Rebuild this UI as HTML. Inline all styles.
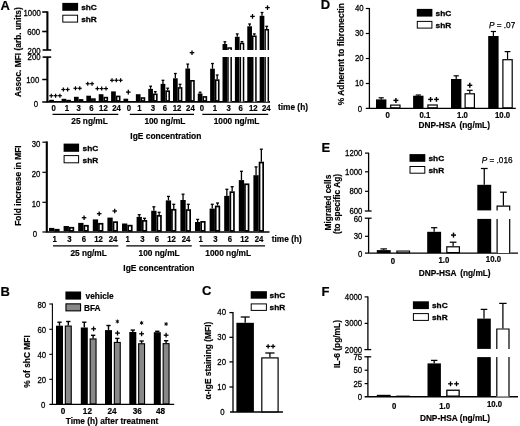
<!DOCTYPE html>
<html><head><meta charset="utf-8"><title>Figure</title>
<style>
html,body{margin:0;padding:0;background:#fff;}
body{width:520px;height:426px;overflow:hidden;}
svg{display:block;filter:blur(0.4px);font-family:"Liberation Sans", sans-serif;}
</style></head>
<body>
<svg width="520" height="426" viewBox="0 0 520 426">
<rect x="0" y="0" width="520" height="426" fill="#fff"/>
<g fill="#000" font-family="Liberation Sans, sans-serif">
<text x="0.6" y="10" font-size="13" font-weight="bold" text-anchor="start" stroke="#000" stroke-width="0.18">A</text>
<line x1="47.4" y1="11.4" x2="47.4" y2="50" stroke="#000" stroke-width="2.1"/>
<line x1="47.4" y1="56.9" x2="47.4" y2="102" stroke="#000" stroke-width="2.1"/>
<line x1="42.2" y1="12" x2="47.4" y2="12" stroke="#000" stroke-width="1.6"/>
<line x1="42.2" y1="31.5" x2="47.4" y2="31.5" stroke="#000" stroke-width="1.6"/>
<line x1="42.6" y1="50" x2="51.2" y2="50" stroke="#000" stroke-width="1.6"/>
<line x1="42.6" y1="57.1" x2="51.2" y2="57.1" stroke="#000" stroke-width="1.6"/>
<line x1="42.2" y1="79.5" x2="47.4" y2="79.5" stroke="#000" stroke-width="1.5"/>
<line x1="42.2" y1="102" x2="47.4" y2="102" stroke="#000" stroke-width="1.5"/>
<text transform="translate(40.8 15.95) scale(1 1.2)" font-size="7.8" font-weight="normal" text-anchor="end" stroke="#000" stroke-width="0.25">1000</text>
<text transform="translate(40.2 34.75) scale(1 1.2)" font-size="7.8" font-weight="normal" text-anchor="end" stroke="#000" stroke-width="0.25">600</text>
<text transform="translate(40.6 53.95) scale(1 1.2)" font-size="7.8" font-weight="normal" text-anchor="end" stroke="#000" stroke-width="0.25">200</text>
<text transform="translate(40.6 60.15) scale(1 1.2)" font-size="7.8" font-weight="normal" text-anchor="end" stroke="#000" stroke-width="0.25">200</text>
<text transform="translate(39.3 82.65) scale(1 1.2)" font-size="7.8" font-weight="normal" text-anchor="end" stroke="#000" stroke-width="0.25">100</text>
<text transform="translate(38 106.75) scale(1 1.2)" font-size="7.8" font-weight="normal" text-anchor="end" stroke="#000" stroke-width="0.25">0</text>
<line x1="46.6" y1="101.9" x2="270" y2="101.9" stroke="#000" stroke-width="1.6"/>
<text x="21.3" y="52.2" font-size="8.4" font-weight="bold" text-anchor="middle" stroke="#000" stroke-width="0.18" transform="rotate(-90 21.3 52.2)">Assoc. MFI (arb. units)</text>
<rect x="62.3" y="2.9" width="15.8" height="7.9" fill="#000"/>
<rect x="62.8" y="15.2" width="14.8" height="6.9" fill="#fff" stroke="#000" stroke-width="1"/>
<text transform="translate(81.2 10.4) scale(1 0.97)" font-size="8.3" font-weight="bold" text-anchor="start" stroke="#000" stroke-width="0.3">shC</text>
<text transform="translate(81.2 22) scale(1 0.97)" font-size="8.3" font-weight="bold" text-anchor="start" stroke="#000" stroke-width="0.3">shR</text>
<rect x="49.2" y="99.8" width="4.7" height="1.4" fill="#000"/>
<rect x="54.7" y="101.4" width="3.1" height="-0.5" fill="#fff" stroke="#000" stroke-width="1.6"/>
<text transform="translate(53.7 110.51) scale(1 1.15)" font-size="7.8" font-weight="bold" text-anchor="middle" stroke="#000" stroke-width="0.18">0</text>
<rect x="61.58" y="98.8" width="4.7" height="2.4" fill="#000"/>
<rect x="67.08" y="100.6" width="3.1" height="0.3" fill="#fff" stroke="#000" stroke-width="1.6"/>
<text transform="translate(66.8 110.51) scale(1 1.15)" font-size="7.8" font-weight="bold" text-anchor="middle" stroke="#000" stroke-width="0.18">1</text>
<rect x="73.96" y="96.8" width="4.7" height="4.4" fill="#000"/>
<rect x="79.46" y="99.9" width="3.1" height="1" fill="#fff" stroke="#000" stroke-width="1.6"/>
<text transform="translate(78.6 110.51) scale(1 1.15)" font-size="7.8" font-weight="bold" text-anchor="middle" stroke="#000" stroke-width="0.18">3</text>
<rect x="86.34" y="95.7" width="4.7" height="5.5" fill="#000"/>
<rect x="91.84" y="99.1" width="3.1" height="1.8" fill="#fff" stroke="#000" stroke-width="1.6"/>
<text transform="translate(91.4 110.51) scale(1 1.15)" font-size="7.8" font-weight="bold" text-anchor="middle" stroke="#000" stroke-width="0.18">6</text>
<rect x="98.72" y="94.2" width="4.7" height="7" fill="#000"/>
<rect x="104.22" y="97.6" width="3.1" height="3.3" fill="#fff" stroke="#000" stroke-width="1.6"/>
<text transform="translate(103.4 110.51) scale(1 1.15)" font-size="7.8" font-weight="bold" text-anchor="middle" stroke="#000" stroke-width="0.18">12</text>
<rect x="111.1" y="91.4" width="4.7" height="9.8" fill="#000"/>
<rect x="116.6" y="96.4" width="3.1" height="4.5" fill="#fff" stroke="#000" stroke-width="1.6"/>
<text transform="translate(116.5 110.51) scale(1 1.15)" font-size="7.8" font-weight="bold" text-anchor="middle" stroke="#000" stroke-width="0.18">24</text>
<rect x="123.48" y="98.7" width="4.7" height="2.5" fill="#000"/>
<rect x="128.98" y="101" width="3.1" height="-0.1" fill="#fff" stroke="#000" stroke-width="1.6"/>
<text transform="translate(129 110.51) scale(1 1.15)" font-size="7.8" font-weight="bold" text-anchor="middle" stroke="#000" stroke-width="0.18">0</text>
<rect x="135.86" y="94.2" width="4.7" height="7" fill="#000"/>
<rect x="141.36" y="98" width="3.1" height="2.9" fill="#fff" stroke="#000" stroke-width="1.6"/>
<text transform="translate(139.5 110.51) scale(1 1.15)" font-size="7.8" font-weight="bold" text-anchor="middle" stroke="#000" stroke-width="0.18">1</text>
<rect x="148.24" y="88.9" width="4.7" height="12.3" fill="#000"/>
<rect x="153.74" y="94.3" width="3.1" height="6.6" fill="#fff" stroke="#000" stroke-width="1.6"/>
<line x1="150.59" y1="88.9" x2="150.59" y2="86.2" stroke="#000" stroke-width="1.3"/>
<line x1="149.19" y1="86.2" x2="151.99" y2="86.2" stroke="#000" stroke-width="1.3"/>
<line x1="155.29" y1="93.5" x2="155.29" y2="91.7" stroke="#000" stroke-width="1.3"/>
<line x1="153.89" y1="91.7" x2="156.69" y2="91.7" stroke="#000" stroke-width="1.3"/>
<text transform="translate(152.8 110.51) scale(1 1.15)" font-size="7.8" font-weight="bold" text-anchor="middle" stroke="#000" stroke-width="0.18">3</text>
<rect x="160.62" y="83.9" width="4.7" height="17.3" fill="#000"/>
<rect x="166.12" y="91.2" width="3.1" height="9.7" fill="#fff" stroke="#000" stroke-width="1.6"/>
<line x1="162.97" y1="83.9" x2="162.97" y2="80.3" stroke="#000" stroke-width="1.3"/>
<line x1="161.57" y1="80.3" x2="164.37" y2="80.3" stroke="#000" stroke-width="1.3"/>
<line x1="167.67" y1="90.4" x2="167.67" y2="88.2" stroke="#000" stroke-width="1.3"/>
<line x1="166.27" y1="88.2" x2="169.07" y2="88.2" stroke="#000" stroke-width="1.3"/>
<text transform="translate(164.8 110.51) scale(1 1.15)" font-size="7.8" font-weight="bold" text-anchor="middle" stroke="#000" stroke-width="0.18">6</text>
<rect x="173" y="78.3" width="4.7" height="22.9" fill="#000"/>
<rect x="178.5" y="87.9" width="3.1" height="13" fill="#fff" stroke="#000" stroke-width="1.6"/>
<line x1="175.35" y1="78.3" x2="175.35" y2="73.5" stroke="#000" stroke-width="1.3"/>
<line x1="173.95" y1="73.5" x2="176.75" y2="73.5" stroke="#000" stroke-width="1.3"/>
<line x1="180.05" y1="87.1" x2="180.05" y2="84.3" stroke="#000" stroke-width="1.3"/>
<line x1="178.65" y1="84.3" x2="181.45" y2="84.3" stroke="#000" stroke-width="1.3"/>
<text transform="translate(177 110.51) scale(1 1.15)" font-size="7.8" font-weight="bold" text-anchor="middle" stroke="#000" stroke-width="0.18">12</text>
<rect x="185.38" y="68.5" width="4.7" height="32.7" fill="#000"/>
<rect x="190.88" y="80.8" width="3.1" height="20.1" fill="#fff" stroke="#000" stroke-width="1.6"/>
<line x1="187.73" y1="68.5" x2="187.73" y2="64.1" stroke="#000" stroke-width="1.3"/>
<line x1="186.33" y1="64.1" x2="189.13" y2="64.1" stroke="#000" stroke-width="1.3"/>
<text transform="translate(190.4 110.51) scale(1 1.15)" font-size="7.8" font-weight="bold" text-anchor="middle" stroke="#000" stroke-width="0.18">24</text>
<rect x="197.76" y="93.5" width="4.7" height="7.7" fill="#000"/>
<rect x="203.26" y="96.9" width="3.1" height="4" fill="#fff" stroke="#000" stroke-width="1.6"/>
<line x1="200.11" y1="93.5" x2="200.11" y2="92.2" stroke="#000" stroke-width="1.3"/>
<line x1="198.71" y1="92.2" x2="201.51" y2="92.2" stroke="#000" stroke-width="1.3"/>
<text transform="translate(201.8 110.51) scale(1 1.15)" font-size="7.8" font-weight="bold" text-anchor="middle" stroke="#000" stroke-width="0.18">0</text>
<rect x="210.14" y="68.7" width="4.7" height="32.5" fill="#000"/>
<rect x="215.64" y="80.1" width="3.1" height="20.8" fill="#fff" stroke="#000" stroke-width="1.6"/>
<line x1="212.49" y1="68.7" x2="212.49" y2="63.5" stroke="#000" stroke-width="1.3"/>
<line x1="211.09" y1="63.5" x2="213.89" y2="63.5" stroke="#000" stroke-width="1.3"/>
<line x1="217.19" y1="79.3" x2="217.19" y2="75" stroke="#000" stroke-width="1.3"/>
<line x1="215.79" y1="75" x2="218.59" y2="75" stroke="#000" stroke-width="1.3"/>
<text transform="translate(215 110.51) scale(1 1.15)" font-size="7.8" font-weight="bold" text-anchor="middle" stroke="#000" stroke-width="0.18">1</text>
<rect x="222.52" y="57" width="4.7" height="44.2" fill="#000"/>
<rect x="227.22" y="57" width="4.7" height="44.7" fill="#fff"/>
<path d="M227.97 101.7 L227.97 57 M231.17 57 L231.17 101.7" fill="none" stroke="#000" stroke-width="1.5"/>
<rect x="222.52" y="44" width="4.7" height="6" fill="#000"/>
<rect x="227.22" y="47.3" width="4.7" height="2.7" fill="#fff"/>
<path d="M227.97 50 L227.97 48.05 L231.17 48.05 L231.17 50" fill="none" stroke="#000" stroke-width="1.5"/>
<line x1="224.87" y1="44" x2="224.87" y2="41.8" stroke="#000" stroke-width="1.3"/>
<line x1="223.47" y1="41.8" x2="226.27" y2="41.8" stroke="#000" stroke-width="1.3"/>
<text transform="translate(228.6 110.51) scale(1 1.15)" font-size="7.8" font-weight="bold" text-anchor="middle" stroke="#000" stroke-width="0.18">3</text>
<rect x="234.9" y="57" width="4.7" height="44.2" fill="#000"/>
<rect x="239.6" y="57" width="4.7" height="44.7" fill="#fff"/>
<path d="M240.35 101.7 L240.35 57 M243.55 57 L243.55 101.7" fill="none" stroke="#000" stroke-width="1.5"/>
<rect x="234.9" y="36.8" width="4.7" height="13.2" fill="#000"/>
<rect x="239.6" y="42.7" width="4.7" height="7.3" fill="#fff"/>
<path d="M240.35 50 L240.35 43.45 L243.55 43.45 L243.55 50" fill="none" stroke="#000" stroke-width="1.5"/>
<line x1="237.25" y1="36.8" x2="237.25" y2="33.9" stroke="#000" stroke-width="1.3"/>
<line x1="235.85" y1="33.9" x2="238.65" y2="33.9" stroke="#000" stroke-width="1.3"/>
<line x1="241.95" y1="42.7" x2="241.95" y2="41.6" stroke="#000" stroke-width="1.3"/>
<line x1="240.55" y1="41.6" x2="243.35" y2="41.6" stroke="#000" stroke-width="1.3"/>
<text transform="translate(240.6 110.51) scale(1 1.15)" font-size="7.8" font-weight="bold" text-anchor="middle" stroke="#000" stroke-width="0.18">6</text>
<rect x="247.28" y="57" width="4.7" height="44.2" fill="#000"/>
<rect x="251.98" y="57" width="4.7" height="44.7" fill="#fff"/>
<path d="M252.73 101.7 L252.73 57 M255.93 57 L255.93 101.7" fill="none" stroke="#000" stroke-width="1.5"/>
<rect x="247.28" y="26.3" width="4.7" height="23.7" fill="#000"/>
<rect x="251.98" y="35.5" width="4.7" height="14.5" fill="#fff"/>
<path d="M252.73 50 L252.73 36.25 L255.93 36.25 L255.93 50" fill="none" stroke="#000" stroke-width="1.5"/>
<line x1="249.63" y1="26.3" x2="249.63" y2="24" stroke="#000" stroke-width="1.3"/>
<line x1="248.23" y1="24" x2="251.03" y2="24" stroke="#000" stroke-width="1.3"/>
<line x1="254.33" y1="35.5" x2="254.33" y2="33.9" stroke="#000" stroke-width="1.3"/>
<line x1="252.93" y1="33.9" x2="255.73" y2="33.9" stroke="#000" stroke-width="1.3"/>
<text transform="translate(253.2 110.51) scale(1 1.15)" font-size="7.8" font-weight="bold" text-anchor="middle" stroke="#000" stroke-width="0.18">12</text>
<rect x="259.66" y="57" width="4.7" height="44.2" fill="#000"/>
<rect x="264.36" y="57" width="4.7" height="44.7" fill="#fff"/>
<path d="M265.11 101.7 L265.11 57 M268.31 57 L268.31 101.7" fill="none" stroke="#000" stroke-width="1.5"/>
<rect x="259.66" y="15.8" width="4.7" height="34.2" fill="#000"/>
<rect x="264.36" y="28.9" width="4.7" height="21.1" fill="#fff"/>
<path d="M265.11 50 L265.11 29.65 L268.31 29.65 L268.31 50" fill="none" stroke="#000" stroke-width="1.5"/>
<line x1="262.01" y1="15.8" x2="262.01" y2="12.5" stroke="#000" stroke-width="1.3"/>
<line x1="260.61" y1="12.5" x2="263.41" y2="12.5" stroke="#000" stroke-width="1.3"/>
<line x1="266.71" y1="28.9" x2="266.71" y2="26.3" stroke="#000" stroke-width="1.3"/>
<line x1="265.31" y1="26.3" x2="268.11" y2="26.3" stroke="#000" stroke-width="1.3"/>
<text transform="translate(266.3 110.51) scale(1 1.15)" font-size="7.8" font-weight="bold" text-anchor="middle" stroke="#000" stroke-width="0.18">24</text>
<line x1="49.3" y1="95.7" x2="53.3" y2="95.7" stroke="#000" stroke-width="1.2"/>
<line x1="51.3" y1="93.7" x2="51.3" y2="97.7" stroke="#000" stroke-width="1.2"/>
<line x1="53.6" y1="95.7" x2="57.6" y2="95.7" stroke="#000" stroke-width="1.2"/>
<line x1="55.6" y1="93.7" x2="55.6" y2="97.7" stroke="#000" stroke-width="1.2"/>
<line x1="57.9" y1="95.7" x2="61.9" y2="95.7" stroke="#000" stroke-width="1.2"/>
<line x1="59.9" y1="93.7" x2="59.9" y2="97.7" stroke="#000" stroke-width="1.2"/>
<line x1="61.35" y1="89.5" x2="65.35" y2="89.5" stroke="#000" stroke-width="1.2"/>
<line x1="63.35" y1="87.5" x2="63.35" y2="91.5" stroke="#000" stroke-width="1.2"/>
<line x1="65.65" y1="89.5" x2="69.65" y2="89.5" stroke="#000" stroke-width="1.2"/>
<line x1="67.65" y1="87.5" x2="67.65" y2="91.5" stroke="#000" stroke-width="1.2"/>
<line x1="73.45" y1="88.3" x2="77.45" y2="88.3" stroke="#000" stroke-width="1.2"/>
<line x1="75.45" y1="86.3" x2="75.45" y2="90.3" stroke="#000" stroke-width="1.2"/>
<line x1="77.75" y1="88.3" x2="81.75" y2="88.3" stroke="#000" stroke-width="1.2"/>
<line x1="79.75" y1="86.3" x2="79.75" y2="90.3" stroke="#000" stroke-width="1.2"/>
<line x1="85.75" y1="83.7" x2="89.75" y2="83.7" stroke="#000" stroke-width="1.2"/>
<line x1="87.75" y1="81.7" x2="87.75" y2="85.7" stroke="#000" stroke-width="1.2"/>
<line x1="90.05" y1="83.7" x2="94.05" y2="83.7" stroke="#000" stroke-width="1.2"/>
<line x1="92.05" y1="81.7" x2="92.05" y2="85.7" stroke="#000" stroke-width="1.2"/>
<line x1="95.4" y1="88.6" x2="99.4" y2="88.6" stroke="#000" stroke-width="1.2"/>
<line x1="97.4" y1="86.6" x2="97.4" y2="90.6" stroke="#000" stroke-width="1.2"/>
<line x1="99.7" y1="88.6" x2="103.7" y2="88.6" stroke="#000" stroke-width="1.2"/>
<line x1="101.7" y1="86.6" x2="101.7" y2="90.6" stroke="#000" stroke-width="1.2"/>
<line x1="104" y1="88.6" x2="108" y2="88.6" stroke="#000" stroke-width="1.2"/>
<line x1="106" y1="86.6" x2="106" y2="90.6" stroke="#000" stroke-width="1.2"/>
<line x1="110" y1="80.3" x2="114" y2="80.3" stroke="#000" stroke-width="1.2"/>
<line x1="112" y1="78.3" x2="112" y2="82.3" stroke="#000" stroke-width="1.2"/>
<line x1="114.3" y1="80.3" x2="118.3" y2="80.3" stroke="#000" stroke-width="1.2"/>
<line x1="116.3" y1="78.3" x2="116.3" y2="82.3" stroke="#000" stroke-width="1.2"/>
<line x1="118.6" y1="80.3" x2="122.6" y2="80.3" stroke="#000" stroke-width="1.2"/>
<line x1="120.6" y1="78.3" x2="120.6" y2="82.3" stroke="#000" stroke-width="1.2"/>
<line x1="126" y1="92.1" x2="130.6" y2="92.1" stroke="#000" stroke-width="1.3"/>
<line x1="128.3" y1="89.8" x2="128.3" y2="94.4" stroke="#000" stroke-width="1.3"/>
<line x1="189.7" y1="52.7" x2="194.3" y2="52.7" stroke="#000" stroke-width="1.3"/>
<line x1="192" y1="50.4" x2="192" y2="55" stroke="#000" stroke-width="1.3"/>
<line x1="250.2" y1="16.4" x2="254.8" y2="16.4" stroke="#000" stroke-width="1.3"/>
<line x1="252.5" y1="14.1" x2="252.5" y2="18.7" stroke="#000" stroke-width="1.3"/>
<line x1="265.2" y1="7.6" x2="269.8" y2="7.6" stroke="#000" stroke-width="1.3"/>
<line x1="267.5" y1="5.3" x2="267.5" y2="9.9" stroke="#000" stroke-width="1.3"/>
<line x1="52.5" y1="114.4" x2="118.3" y2="114.4" stroke="#000" stroke-width="1.3"/>
<line x1="129.8" y1="114.4" x2="194" y2="114.4" stroke="#000" stroke-width="1.3"/>
<line x1="202.3" y1="114.4" x2="268.2" y2="114.4" stroke="#000" stroke-width="1.3"/>
<text x="89.5" y="124.2" font-size="8.3" font-weight="bold" text-anchor="middle" stroke="#000" stroke-width="0.18">25 ng/mL</text>
<text x="164.9" y="124.2" font-size="8.3" font-weight="bold" text-anchor="middle" stroke="#000" stroke-width="0.18">100 ng/mL</text>
<text x="236.5" y="124.2" font-size="8.3" font-weight="bold" text-anchor="middle" stroke="#000" stroke-width="0.18">1000 ng/mL</text>
<text x="278" y="110.2" font-size="8.3" font-weight="bold" text-anchor="start" stroke="#000" stroke-width="0.18">time (h)</text>
<text x="165.8" y="138.9" font-size="8.42" font-weight="bold" text-anchor="middle" stroke="#000" stroke-width="0.18">IgE concentration</text>
<line x1="46.8" y1="141.4" x2="46.8" y2="232" stroke="#000" stroke-width="2.1"/>
<line x1="42.4" y1="142.2" x2="46.8" y2="142.2" stroke="#000" stroke-width="1.2"/>
<text transform="translate(40.4 146.95) scale(1 1.2)" font-size="7.8" font-weight="normal" text-anchor="end" stroke="#000" stroke-width="0.25">30</text>
<line x1="42.4" y1="172.3" x2="46.8" y2="172.3" stroke="#000" stroke-width="1.2"/>
<text transform="translate(40.4 176.95) scale(1 1.2)" font-size="7.8" font-weight="normal" text-anchor="end" stroke="#000" stroke-width="0.25">20</text>
<line x1="42.4" y1="202.3" x2="46.8" y2="202.3" stroke="#000" stroke-width="1.2"/>
<text transform="translate(40.4 206.65) scale(1 1.2)" font-size="7.8" font-weight="normal" text-anchor="end" stroke="#000" stroke-width="0.25">10</text>
<line x1="42.4" y1="232" x2="46.8" y2="232" stroke="#000" stroke-width="1.2"/>
<text transform="translate(37 236.95) scale(1 1.2)" font-size="7.8" font-weight="normal" text-anchor="end" stroke="#000" stroke-width="0.25">0</text>
<line x1="46" y1="232" x2="269.5" y2="232" stroke="#000" stroke-width="1.6"/>
<text x="21" y="185.6" font-size="8.4" font-weight="bold" text-anchor="middle" stroke="#000" stroke-width="0.18" transform="rotate(-90 21 185.6)">Fold increase in MFI</text>
<rect x="63.6" y="143.6" width="15.5" height="8.2" fill="#000"/>
<rect x="64.1" y="155.6" width="14.5" height="7.2" fill="#fff" stroke="#000" stroke-width="1"/>
<text transform="translate(82.6 151.2) scale(1 0.97)" font-size="8.3" font-weight="bold" text-anchor="start" stroke="#000" stroke-width="0.3">shC</text>
<text transform="translate(82.6 162.7) scale(1 0.97)" font-size="8.3" font-weight="bold" text-anchor="start" stroke="#000" stroke-width="0.3">shR</text>
<rect x="49" y="227.9" width="5.3" height="3.3" fill="#000"/>
<rect x="55.15" y="229.75" width="3.6" height="1.1" fill="#fff" stroke="#000" stroke-width="1.7"/>
<text transform="translate(54.7 241.61) scale(1 1.15)" font-size="7.8" font-weight="bold" text-anchor="middle" stroke="#000" stroke-width="0.18">1</text>
<rect x="63.6" y="226" width="5.3" height="5.2" fill="#000"/>
<rect x="69.75" y="227.75" width="3.6" height="3.1" fill="#fff" stroke="#000" stroke-width="1.7"/>
<text transform="translate(69.3 241.61) scale(1 1.15)" font-size="7.8" font-weight="bold" text-anchor="middle" stroke="#000" stroke-width="0.18">3</text>
<rect x="78.2" y="222.9" width="5.3" height="8.3" fill="#000"/>
<rect x="84.35" y="225.75" width="3.6" height="5.1" fill="#fff" stroke="#000" stroke-width="1.7"/>
<text transform="translate(83.9 241.61) scale(1 1.15)" font-size="7.8" font-weight="bold" text-anchor="middle" stroke="#000" stroke-width="0.18">6</text>
<rect x="92.8" y="219.4" width="5.3" height="11.8" fill="#000"/>
<rect x="98.95" y="223.75" width="3.6" height="7.1" fill="#fff" stroke="#000" stroke-width="1.7"/>
<text transform="translate(98.5 241.61) scale(1 1.15)" font-size="7.8" font-weight="bold" text-anchor="middle" stroke="#000" stroke-width="0.18">12</text>
<rect x="107.4" y="217.6" width="5.3" height="13.6" fill="#000"/>
<rect x="113.55" y="222.15" width="3.6" height="8.7" fill="#fff" stroke="#000" stroke-width="1.7"/>
<text transform="translate(113.1 241.61) scale(1 1.15)" font-size="7.8" font-weight="bold" text-anchor="middle" stroke="#000" stroke-width="0.18">24</text>
<rect x="122" y="223.5" width="5.3" height="7.7" fill="#000"/>
<rect x="128.15" y="225.65" width="3.6" height="5.2" fill="#fff" stroke="#000" stroke-width="1.7"/>
<text transform="translate(127.7 241.61) scale(1 1.15)" font-size="7.8" font-weight="bold" text-anchor="middle" stroke="#000" stroke-width="0.18">1</text>
<rect x="136.6" y="216.9" width="5.3" height="14.3" fill="#000"/>
<rect x="142.75" y="220.85" width="3.6" height="10" fill="#fff" stroke="#000" stroke-width="1.7"/>
<line x1="139.25" y1="216.9" x2="139.25" y2="214.7" stroke="#000" stroke-width="1.3"/>
<line x1="137.75" y1="214.7" x2="140.75" y2="214.7" stroke="#000" stroke-width="1.3"/>
<line x1="144.55" y1="220" x2="144.55" y2="218.3" stroke="#000" stroke-width="1.3"/>
<line x1="143.05" y1="218.3" x2="146.05" y2="218.3" stroke="#000" stroke-width="1.3"/>
<text transform="translate(142.3 241.61) scale(1 1.15)" font-size="7.8" font-weight="bold" text-anchor="middle" stroke="#000" stroke-width="0.18">3</text>
<rect x="151.2" y="210.8" width="5.3" height="20.4" fill="#000"/>
<rect x="157.35" y="215.85" width="3.6" height="15" fill="#fff" stroke="#000" stroke-width="1.7"/>
<line x1="153.85" y1="210.8" x2="153.85" y2="206.8" stroke="#000" stroke-width="1.3"/>
<line x1="152.35" y1="206.8" x2="155.35" y2="206.8" stroke="#000" stroke-width="1.3"/>
<line x1="159.15" y1="215" x2="159.15" y2="212.3" stroke="#000" stroke-width="1.3"/>
<line x1="157.65" y1="212.3" x2="160.65" y2="212.3" stroke="#000" stroke-width="1.3"/>
<text transform="translate(156.9 241.61) scale(1 1.15)" font-size="7.8" font-weight="bold" text-anchor="middle" stroke="#000" stroke-width="0.18">6</text>
<rect x="165.8" y="200.4" width="5.3" height="30.8" fill="#000"/>
<rect x="171.95" y="209.75" width="3.6" height="21.1" fill="#fff" stroke="#000" stroke-width="1.7"/>
<line x1="168.45" y1="200.4" x2="168.45" y2="196.4" stroke="#000" stroke-width="1.3"/>
<line x1="166.95" y1="196.4" x2="169.95" y2="196.4" stroke="#000" stroke-width="1.3"/>
<line x1="173.75" y1="208.9" x2="173.75" y2="204.3" stroke="#000" stroke-width="1.3"/>
<line x1="172.25" y1="204.3" x2="175.25" y2="204.3" stroke="#000" stroke-width="1.3"/>
<text transform="translate(171.5 241.61) scale(1 1.15)" font-size="7.8" font-weight="bold" text-anchor="middle" stroke="#000" stroke-width="0.18">12</text>
<rect x="180.4" y="200" width="5.3" height="31.2" fill="#000"/>
<rect x="186.55" y="210.05" width="3.6" height="20.8" fill="#fff" stroke="#000" stroke-width="1.7"/>
<line x1="183.05" y1="200" x2="183.05" y2="194.2" stroke="#000" stroke-width="1.3"/>
<line x1="181.55" y1="194.2" x2="184.55" y2="194.2" stroke="#000" stroke-width="1.3"/>
<line x1="188.35" y1="209.2" x2="188.35" y2="204.3" stroke="#000" stroke-width="1.3"/>
<line x1="186.85" y1="204.3" x2="189.85" y2="204.3" stroke="#000" stroke-width="1.3"/>
<text transform="translate(186.1 241.61) scale(1 1.15)" font-size="7.8" font-weight="bold" text-anchor="middle" stroke="#000" stroke-width="0.18">24</text>
<rect x="195" y="222" width="5.3" height="9.2" fill="#000"/>
<rect x="201.15" y="221.85" width="3.6" height="9" fill="#fff" stroke="#000" stroke-width="1.7"/>
<line x1="197.65" y1="222" x2="197.65" y2="219.4" stroke="#000" stroke-width="1.3"/>
<line x1="196.15" y1="219.4" x2="199.15" y2="219.4" stroke="#000" stroke-width="1.3"/>
<text transform="translate(200.7 241.61) scale(1 1.15)" font-size="7.8" font-weight="bold" text-anchor="middle" stroke="#000" stroke-width="0.18">1</text>
<rect x="209.6" y="208.6" width="5.3" height="22.6" fill="#000"/>
<rect x="215.75" y="206.45" width="3.6" height="24.4" fill="#fff" stroke="#000" stroke-width="1.7"/>
<line x1="212.25" y1="208.6" x2="212.25" y2="204.3" stroke="#000" stroke-width="1.3"/>
<line x1="210.75" y1="204.3" x2="213.75" y2="204.3" stroke="#000" stroke-width="1.3"/>
<line x1="217.55" y1="205.6" x2="217.55" y2="203" stroke="#000" stroke-width="1.3"/>
<line x1="216.05" y1="203" x2="219.05" y2="203" stroke="#000" stroke-width="1.3"/>
<text transform="translate(215.3 241.61) scale(1 1.15)" font-size="7.8" font-weight="bold" text-anchor="middle" stroke="#000" stroke-width="0.18">3</text>
<rect x="224.2" y="195.9" width="5.3" height="35.3" fill="#000"/>
<rect x="230.35" y="192.15" width="3.6" height="38.7" fill="#fff" stroke="#000" stroke-width="1.7"/>
<line x1="226.85" y1="195.9" x2="226.85" y2="189.3" stroke="#000" stroke-width="1.3"/>
<line x1="225.35" y1="189.3" x2="228.35" y2="189.3" stroke="#000" stroke-width="1.3"/>
<line x1="232.15" y1="191.3" x2="232.15" y2="186.7" stroke="#000" stroke-width="1.3"/>
<line x1="230.65" y1="186.7" x2="233.65" y2="186.7" stroke="#000" stroke-width="1.3"/>
<text transform="translate(229.9 241.61) scale(1 1.15)" font-size="7.8" font-weight="bold" text-anchor="middle" stroke="#000" stroke-width="0.18">6</text>
<rect x="238.8" y="180.1" width="5.3" height="51.1" fill="#000"/>
<rect x="244.95" y="184.25" width="3.6" height="46.6" fill="#fff" stroke="#000" stroke-width="1.7"/>
<line x1="241.45" y1="180.1" x2="241.45" y2="171.3" stroke="#000" stroke-width="1.3"/>
<line x1="239.95" y1="171.3" x2="242.95" y2="171.3" stroke="#000" stroke-width="1.3"/>
<text transform="translate(244.5 241.61) scale(1 1.15)" font-size="7.8" font-weight="bold" text-anchor="middle" stroke="#000" stroke-width="0.18">12</text>
<rect x="253.4" y="175.2" width="5.3" height="56" fill="#000"/>
<rect x="259.55" y="162.55" width="3.6" height="68.3" fill="#fff" stroke="#000" stroke-width="1.7"/>
<line x1="256.05" y1="175.2" x2="256.05" y2="166.9" stroke="#000" stroke-width="1.3"/>
<line x1="254.55" y1="166.9" x2="257.55" y2="166.9" stroke="#000" stroke-width="1.3"/>
<line x1="261.35" y1="161.7" x2="261.35" y2="149.2" stroke="#000" stroke-width="1.3"/>
<line x1="259.85" y1="149.2" x2="262.85" y2="149.2" stroke="#000" stroke-width="1.3"/>
<text transform="translate(259.1 241.61) scale(1 1.15)" font-size="7.8" font-weight="bold" text-anchor="middle" stroke="#000" stroke-width="0.18">24</text>
<line x1="81.8" y1="217.7" x2="86.4" y2="217.7" stroke="#000" stroke-width="1.3"/>
<line x1="84.1" y1="215.4" x2="84.1" y2="220" stroke="#000" stroke-width="1.3"/>
<line x1="96.9" y1="213.7" x2="101.5" y2="213.7" stroke="#000" stroke-width="1.3"/>
<line x1="99.2" y1="211.4" x2="99.2" y2="216" stroke="#000" stroke-width="1.3"/>
<line x1="112.4" y1="211" x2="117" y2="211" stroke="#000" stroke-width="1.3"/>
<line x1="114.7" y1="208.7" x2="114.7" y2="213.3" stroke="#000" stroke-width="1.3"/>
<line x1="53" y1="245.9" x2="118.3" y2="245.9" stroke="#000" stroke-width="1.3"/>
<line x1="126.3" y1="245.9" x2="191.8" y2="245.9" stroke="#000" stroke-width="1.3"/>
<line x1="199.8" y1="245.9" x2="265" y2="245.9" stroke="#000" stroke-width="1.3"/>
<text x="88.6" y="256.2" font-size="8.3" font-weight="bold" text-anchor="middle" stroke="#000" stroke-width="0.18">25 ng/mL</text>
<text x="159.1" y="255.9" font-size="8.3" font-weight="bold" text-anchor="middle" stroke="#000" stroke-width="0.18">100 ng/mL</text>
<text x="228.2" y="256.2" font-size="8.3" font-weight="bold" text-anchor="middle" stroke="#000" stroke-width="0.18">1000 ng/mL</text>
<text x="271.8" y="242" font-size="8.3" font-weight="bold" text-anchor="start" stroke="#000" stroke-width="0.18">time (h)</text>
<text x="158.8" y="271.4" font-size="8.42" font-weight="bold" text-anchor="middle" stroke="#000" stroke-width="0.18">IgE concentration</text>
<text x="0.4" y="295.6" font-size="13" font-weight="bold" text-anchor="start" stroke="#000" stroke-width="0.18">B</text>
<line x1="52.4" y1="303.6" x2="52.4" y2="404.4" stroke="#000" stroke-width="1.1"/>
<line x1="49.3" y1="304" x2="52.4" y2="304" stroke="#000" stroke-width="1.1"/>
<text transform="translate(46.2 307.95) scale(1 1.2)" font-size="7.8" font-weight="normal" text-anchor="end" stroke="#000" stroke-width="0.25">80</text>
<line x1="49.3" y1="329.3" x2="52.4" y2="329.3" stroke="#000" stroke-width="1.1"/>
<text transform="translate(46.2 332.95) scale(1 1.2)" font-size="7.8" font-weight="normal" text-anchor="end" stroke="#000" stroke-width="0.25">60</text>
<line x1="49.3" y1="354.3" x2="52.4" y2="354.3" stroke="#000" stroke-width="1.1"/>
<text transform="translate(46.2 357.95) scale(1 1.2)" font-size="7.8" font-weight="normal" text-anchor="end" stroke="#000" stroke-width="0.25">40</text>
<line x1="49.3" y1="379.3" x2="52.4" y2="379.3" stroke="#000" stroke-width="1.1"/>
<text transform="translate(46.2 382.85) scale(1 1.2)" font-size="7.8" font-weight="normal" text-anchor="end" stroke="#000" stroke-width="0.25">20</text>
<text transform="translate(45.4 408.15) scale(1 1.2)" font-size="7.8" font-weight="normal" text-anchor="end" stroke="#000" stroke-width="0.25">0</text>
<line x1="49.3" y1="404.4" x2="174.2" y2="404.4" stroke="#000" stroke-width="1.3"/>
<text x="30" y="361.5" font-size="8.4" font-weight="bold" text-anchor="middle" stroke="#000" stroke-width="0.18" transform="rotate(-90 30 361.5)">% of shC MFI</text>
<rect x="65.4" y="291.5" width="15.7" height="8.1" fill="#000"/>
<rect x="65.95" y="303.85" width="14.6" height="7" fill="#888" stroke="#000" stroke-width="1.1"/>
<text x="85.6" y="298.7" font-size="8.3" font-weight="bold" text-anchor="start" stroke="#000" stroke-width="0.18">vehicle</text>
<text x="83.9" y="310.6" font-size="8.3" font-weight="bold" text-anchor="start" stroke="#000" stroke-width="0.18">BFA</text>
<rect x="56" y="325.7" width="7" height="78.3" fill="#000"/>
<rect x="65.35" y="326.05" width="5.9" height="77.8" fill="#888" stroke="#000" stroke-width="1.1"/>
<line x1="59.5" y1="325.7" x2="59.5" y2="322.2" stroke="#000" stroke-width="1.4"/>
<line x1="57.35" y1="322.2" x2="61.65" y2="322.2" stroke="#000" stroke-width="1.4"/>
<line x1="68.3" y1="325.5" x2="68.3" y2="321.5" stroke="#000" stroke-width="1.4"/>
<line x1="66.15" y1="321.5" x2="70.45" y2="321.5" stroke="#000" stroke-width="1.4"/>
<rect x="80.8" y="327.5" width="7" height="76.5" fill="#000"/>
<rect x="90.15" y="338.95" width="5.9" height="64.9" fill="#888" stroke="#000" stroke-width="1.1"/>
<line x1="84.3" y1="327.5" x2="84.3" y2="322.2" stroke="#000" stroke-width="1.4"/>
<line x1="82.15" y1="322.2" x2="86.45" y2="322.2" stroke="#000" stroke-width="1.4"/>
<line x1="93.1" y1="338.4" x2="93.1" y2="335.3" stroke="#000" stroke-width="1.4"/>
<line x1="90.95" y1="335.3" x2="95.25" y2="335.3" stroke="#000" stroke-width="1.4"/>
<rect x="105" y="330.1" width="7" height="73.9" fill="#000"/>
<rect x="114.35" y="342.45" width="5.9" height="61.4" fill="#888" stroke="#000" stroke-width="1.1"/>
<line x1="108.5" y1="330.1" x2="108.5" y2="325.5" stroke="#000" stroke-width="1.4"/>
<line x1="106.35" y1="325.5" x2="110.65" y2="325.5" stroke="#000" stroke-width="1.4"/>
<line x1="117.3" y1="341.9" x2="117.3" y2="338.4" stroke="#000" stroke-width="1.4"/>
<line x1="115.15" y1="338.4" x2="119.45" y2="338.4" stroke="#000" stroke-width="1.4"/>
<rect x="129.3" y="332" width="7" height="72" fill="#000"/>
<rect x="138.65" y="343.75" width="5.9" height="60.1" fill="#888" stroke="#000" stroke-width="1.1"/>
<line x1="132.8" y1="332" x2="132.8" y2="330.1" stroke="#000" stroke-width="1.4"/>
<line x1="130.65" y1="330.1" x2="134.95" y2="330.1" stroke="#000" stroke-width="1.4"/>
<line x1="141.6" y1="343.2" x2="141.6" y2="341" stroke="#000" stroke-width="1.4"/>
<line x1="139.45" y1="341" x2="143.75" y2="341" stroke="#000" stroke-width="1.4"/>
<rect x="153.8" y="332.2" width="7" height="71.8" fill="#000"/>
<rect x="163.15" y="343.65" width="5.9" height="60.2" fill="#888" stroke="#000" stroke-width="1.1"/>
<line x1="157.3" y1="332.2" x2="157.3" y2="331.3" stroke="#000" stroke-width="1.4"/>
<line x1="155.15" y1="331.3" x2="159.45" y2="331.3" stroke="#000" stroke-width="1.4"/>
<line x1="166.1" y1="343.1" x2="166.1" y2="340.7" stroke="#000" stroke-width="1.4"/>
<line x1="163.95" y1="340.7" x2="168.25" y2="340.7" stroke="#000" stroke-width="1.4"/>
<text transform="translate(63 413.98) scale(1 1.15)" font-size="8.2" font-weight="bold" text-anchor="middle" stroke="#000" stroke-width="0.18">0</text>
<text transform="translate(87.4 413.98) scale(1 1.15)" font-size="8.2" font-weight="bold" text-anchor="middle" stroke="#000" stroke-width="0.18">12</text>
<text transform="translate(112 413.98) scale(1 1.15)" font-size="8.2" font-weight="bold" text-anchor="middle" stroke="#000" stroke-width="0.18">24</text>
<text transform="translate(137.2 413.98) scale(1 1.15)" font-size="8.2" font-weight="bold" text-anchor="middle" stroke="#000" stroke-width="0.18">36</text>
<text transform="translate(160.5 413.98) scale(1 1.15)" font-size="8.2" font-weight="bold" text-anchor="middle" stroke="#000" stroke-width="0.18">48</text>
<line x1="91.2" y1="328.8" x2="96" y2="328.8" stroke="#000" stroke-width="1.3"/>
<line x1="93.6" y1="326.4" x2="93.6" y2="331.2" stroke="#000" stroke-width="1.3"/>
<line x1="115.1" y1="333.1" x2="119.9" y2="333.1" stroke="#000" stroke-width="1.3"/>
<line x1="117.5" y1="330.7" x2="117.5" y2="335.5" stroke="#000" stroke-width="1.3"/>
<line x1="139.2" y1="333.8" x2="144" y2="333.8" stroke="#000" stroke-width="1.3"/>
<line x1="141.6" y1="331.4" x2="141.6" y2="336.2" stroke="#000" stroke-width="1.3"/>
<line x1="163.7" y1="335.2" x2="168.5" y2="335.2" stroke="#000" stroke-width="1.3"/>
<line x1="166.1" y1="332.8" x2="166.1" y2="337.6" stroke="#000" stroke-width="1.3"/>
<line x1="117.4" y1="319.55" x2="117.4" y2="323.45" stroke="#000" stroke-width="0.95"/>
<line x1="115.71" y1="320.52" x2="119.09" y2="322.48" stroke="#000" stroke-width="0.95"/>
<line x1="115.71" y1="322.48" x2="119.09" y2="320.52" stroke="#000" stroke-width="0.95"/>
<line x1="141.6" y1="320.95" x2="141.6" y2="324.85" stroke="#000" stroke-width="0.95"/>
<line x1="139.91" y1="321.92" x2="143.29" y2="323.88" stroke="#000" stroke-width="0.95"/>
<line x1="139.91" y1="323.88" x2="143.29" y2="321.92" stroke="#000" stroke-width="0.95"/>
<line x1="166.1" y1="322.05" x2="166.1" y2="325.95" stroke="#000" stroke-width="0.95"/>
<line x1="164.41" y1="323.02" x2="167.79" y2="324.98" stroke="#000" stroke-width="0.95"/>
<line x1="164.41" y1="324.98" x2="167.79" y2="323.02" stroke="#000" stroke-width="0.95"/>
<text x="112" y="423.5" font-size="8.3" font-weight="bold" text-anchor="middle" stroke="#000" stroke-width="0.18">Time (h) after treatment</text>
<text x="202.1" y="295.4" font-size="13" font-weight="bold" text-anchor="start" stroke="#000" stroke-width="0.18">C</text>
<line x1="233" y1="311.9" x2="233" y2="412" stroke="#000" stroke-width="1.3"/>
<line x1="229.4" y1="312.6" x2="233" y2="312.6" stroke="#000" stroke-width="1.3"/>
<text transform="translate(226 315.25) scale(1 1.2)" font-size="7.8" font-weight="normal" text-anchor="end" stroke="#000" stroke-width="0.25">40</text>
<line x1="229.4" y1="337.3" x2="233" y2="337.3" stroke="#000" stroke-width="1.3"/>
<text transform="translate(226 339.95) scale(1 1.2)" font-size="7.8" font-weight="normal" text-anchor="end" stroke="#000" stroke-width="0.25">30</text>
<line x1="229.4" y1="361.9" x2="233" y2="361.9" stroke="#000" stroke-width="1.3"/>
<text transform="translate(226 364.55) scale(1 1.2)" font-size="7.8" font-weight="normal" text-anchor="end" stroke="#000" stroke-width="0.25">20</text>
<line x1="229.4" y1="387" x2="233" y2="387" stroke="#000" stroke-width="1.3"/>
<text transform="translate(226 389.65) scale(1 1.2)" font-size="7.8" font-weight="normal" text-anchor="end" stroke="#000" stroke-width="0.25">10</text>
<text transform="translate(224.5 414.85) scale(1 1.2)" font-size="7.8" font-weight="normal" text-anchor="end" stroke="#000" stroke-width="0.25">0</text>
<line x1="230" y1="412" x2="283" y2="412" stroke="#000" stroke-width="1.3"/>
<text x="211" y="360.6" font-size="8.4" font-weight="bold" text-anchor="middle" stroke="#000" stroke-width="0.18" transform="rotate(-90 211 360.6)">α-IgE staining (MFI)</text>
<rect x="250.7" y="291.2" width="16.2" height="7.5" fill="#000"/>
<rect x="251.2" y="303.9" width="15.2" height="6.5" fill="#fff" stroke="#000" stroke-width="1"/>
<text transform="translate(269.6 298.3) scale(1 0.97)" font-size="8.3" font-weight="bold" text-anchor="start" stroke="#000" stroke-width="0.3">shC</text>
<text transform="translate(269.6 310.2) scale(1 0.97)" font-size="8.3" font-weight="bold" text-anchor="start" stroke="#000" stroke-width="0.3">shR</text>
<rect x="236.4" y="322.8" width="17.5" height="89.2" fill="#000"/>
<line x1="245.2" y1="322.8" x2="245.2" y2="317" stroke="#000" stroke-width="1.3"/>
<line x1="240.7" y1="317" x2="249.7" y2="317" stroke="#000" stroke-width="1.3"/>
<rect x="261.8" y="357.9" width="16.3" height="53.9" fill="#fff" stroke="#000" stroke-width="1.2"/>
<line x1="269.9" y1="357.3" x2="269.9" y2="353" stroke="#000" stroke-width="1.3"/>
<line x1="265.3" y1="353" x2="274.5" y2="353" stroke="#000" stroke-width="1.3"/>
<line x1="265.95" y1="346.4" x2="270.35" y2="346.4" stroke="#000" stroke-width="1.3"/>
<line x1="268.15" y1="344.2" x2="268.15" y2="348.6" stroke="#000" stroke-width="1.3"/>
<line x1="270.85" y1="346.4" x2="275.25" y2="346.4" stroke="#000" stroke-width="1.3"/>
<line x1="273.05" y1="344.2" x2="273.05" y2="348.6" stroke="#000" stroke-width="1.3"/>
<text x="320.8" y="9.1" font-size="13" font-weight="bold" text-anchor="start" stroke="#000" stroke-width="0.18">D</text>
<line x1="369.4" y1="8" x2="369.4" y2="108.4" stroke="#000" stroke-width="1.3"/>
<line x1="365.8" y1="8.5" x2="369.4" y2="8.5" stroke="#000" stroke-width="1.2"/>
<text transform="translate(363.6 10.85) scale(1 1.2)" font-size="7.8" font-weight="normal" text-anchor="end" stroke="#000" stroke-width="0.25">40</text>
<line x1="365.8" y1="33.5" x2="369.4" y2="33.5" stroke="#000" stroke-width="1.2"/>
<text transform="translate(363.6 35.85) scale(1 1.2)" font-size="7.8" font-weight="normal" text-anchor="end" stroke="#000" stroke-width="0.25">30</text>
<line x1="365.8" y1="58.5" x2="369.4" y2="58.5" stroke="#000" stroke-width="1.2"/>
<text transform="translate(363.6 60.85) scale(1 1.2)" font-size="7.8" font-weight="normal" text-anchor="end" stroke="#000" stroke-width="0.25">20</text>
<line x1="365.8" y1="83.5" x2="369.4" y2="83.5" stroke="#000" stroke-width="1.2"/>
<text transform="translate(363.6 85.85) scale(1 1.2)" font-size="7.8" font-weight="normal" text-anchor="end" stroke="#000" stroke-width="0.25">10</text>
<text transform="translate(362 111.55) scale(1 1.2)" font-size="7.8" font-weight="normal" text-anchor="end" stroke="#000" stroke-width="0.25">0</text>
<line x1="365.8" y1="108.4" x2="515.8" y2="108.4" stroke="#000" stroke-width="1.4"/>
<text x="343.6" y="54.1" font-size="8.4" font-weight="bold" text-anchor="middle" stroke="#000" stroke-width="0.18" transform="rotate(-90 343.6 54.1)">% Adherent to fibronectin</text>
<rect x="416.8" y="8.9" width="15.6" height="7.7" fill="#000"/>
<rect x="417.3" y="21.4" width="14.6" height="6.7" fill="#fff" stroke="#000" stroke-width="1"/>
<text transform="translate(435.6 16.1) scale(1 0.97)" font-size="8.3" font-weight="bold" text-anchor="start" stroke="#000" stroke-width="0.3">shC</text>
<text transform="translate(435.6 27.9) scale(1 0.97)" font-size="8.3" font-weight="bold" text-anchor="start" stroke="#000" stroke-width="0.3">shR</text>
<rect x="376" y="99.4" width="10.4" height="8.6" fill="#000"/>
<rect x="390.7" y="105.1" width="9.3" height="2.7" fill="#fff" stroke="#000" stroke-width="1.2"/>
<line x1="381.2" y1="99.4" x2="381.2" y2="97.8" stroke="#000" stroke-width="1.2"/>
<line x1="378.6" y1="97.8" x2="383.8" y2="97.8" stroke="#000" stroke-width="1.2"/>
<rect x="413.1" y="95.7" width="10.4" height="12.3" fill="#000"/>
<rect x="427.9" y="105" width="9.3" height="2.8" fill="#fff" stroke="#000" stroke-width="1.2"/>
<line x1="418.3" y1="95.7" x2="418.3" y2="95" stroke="#000" stroke-width="1.2"/>
<line x1="415.7" y1="95" x2="420.9" y2="95" stroke="#000" stroke-width="1.2"/>
<rect x="451" y="79" width="10.4" height="29" fill="#000"/>
<rect x="465.1" y="93.8" width="9.3" height="14" fill="#fff" stroke="#000" stroke-width="1.2"/>
<line x1="456.2" y1="79" x2="456.2" y2="75.8" stroke="#000" stroke-width="1.2"/>
<line x1="453.6" y1="75.8" x2="458.8" y2="75.8" stroke="#000" stroke-width="1.2"/>
<line x1="469.75" y1="93.2" x2="469.75" y2="90.3" stroke="#000" stroke-width="1.2"/>
<line x1="466.85" y1="90.3" x2="472.65" y2="90.3" stroke="#000" stroke-width="1.2"/>
<rect x="488.2" y="36" width="10.4" height="72" fill="#000"/>
<rect x="502.9" y="59.7" width="9.3" height="48.1" fill="#fff" stroke="#000" stroke-width="1.2"/>
<line x1="493.4" y1="36" x2="493.4" y2="31.5" stroke="#000" stroke-width="1.2"/>
<line x1="490.8" y1="31.5" x2="496" y2="31.5" stroke="#000" stroke-width="1.2"/>
<line x1="507.55" y1="59.1" x2="507.55" y2="51.6" stroke="#000" stroke-width="1.2"/>
<line x1="504.65" y1="51.6" x2="510.45" y2="51.6" stroke="#000" stroke-width="1.2"/>
<text transform="translate(387.7 117.81) scale(1 1.15)" font-size="7.8" font-weight="bold" text-anchor="middle" stroke="#000" stroke-width="0.18">0</text>
<text transform="translate(424.9 117.81) scale(1 1.15)" font-size="7.8" font-weight="bold" text-anchor="middle" stroke="#000" stroke-width="0.18">0.1</text>
<text transform="translate(462.5 117.81) scale(1 1.15)" font-size="7.8" font-weight="bold" text-anchor="middle" stroke="#000" stroke-width="0.18">1.0</text>
<text transform="translate(502.6 117.81) scale(1 1.15)" font-size="7.8" font-weight="bold" text-anchor="middle" stroke="#000" stroke-width="0.18">10.0</text>
<line x1="393.4" y1="100.4" x2="398.4" y2="100.4" stroke="#000" stroke-width="1.45"/>
<line x1="395.9" y1="97.9" x2="395.9" y2="102.9" stroke="#000" stroke-width="1.45"/>
<line x1="428.15" y1="99.4" x2="432.95" y2="99.4" stroke="#000" stroke-width="1.4"/>
<line x1="430.55" y1="97" x2="430.55" y2="101.8" stroke="#000" stroke-width="1.4"/>
<line x1="434.05" y1="99.4" x2="438.85" y2="99.4" stroke="#000" stroke-width="1.4"/>
<line x1="436.45" y1="97" x2="436.45" y2="101.8" stroke="#000" stroke-width="1.4"/>
<line x1="467.3" y1="85.3" x2="472.3" y2="85.3" stroke="#000" stroke-width="1.45"/>
<line x1="469.8" y1="82.8" x2="469.8" y2="87.8" stroke="#000" stroke-width="1.45"/>
<text x="489" y="27.6" font-size="8.2" font-weight="normal" text-anchor="start" stroke="#000" stroke-width="0.25"><tspan font-style="italic">P</tspan> = .07</text>
<text x="454.2" y="127.5" font-size="8.3" font-weight="bold" text-anchor="middle" stroke="#000" stroke-width="0.18">DNP-HSA <tspan dx="1.2">(ng/mL)</tspan></text>
<text x="321.4" y="152.2" font-size="13" font-weight="bold" text-anchor="start" stroke="#000" stroke-width="0.18">E</text>
<line x1="368.6" y1="152.7" x2="368.6" y2="211" stroke="#000" stroke-width="1.3"/>
<line x1="368.6" y1="218" x2="368.6" y2="253.1" stroke="#000" stroke-width="1.3"/>
<line x1="365" y1="153.1" x2="368.6" y2="153.1" stroke="#000" stroke-width="1.2"/>
<text transform="translate(362.4 156.05) scale(1 1.2)" font-size="7.8" font-weight="normal" text-anchor="end" stroke="#000" stroke-width="0.25">1200</text>
<line x1="365" y1="171.8" x2="368.6" y2="171.8" stroke="#000" stroke-width="1.2"/>
<text transform="translate(362.4 174.75) scale(1 1.2)" font-size="7.8" font-weight="normal" text-anchor="end" stroke="#000" stroke-width="0.25">1000</text>
<line x1="365" y1="191.3" x2="368.6" y2="191.3" stroke="#000" stroke-width="1.2"/>
<text transform="translate(362.4 194.25) scale(1 1.2)" font-size="7.8" font-weight="normal" text-anchor="end" stroke="#000" stroke-width="0.25">800</text>
<line x1="364.8" y1="211" x2="371.6" y2="211" stroke="#000" stroke-width="1.3"/>
<text transform="translate(362.4 213.95) scale(1 1.2)" font-size="7.8" font-weight="normal" text-anchor="end" stroke="#000" stroke-width="0.25">600</text>
<line x1="364.8" y1="218.2" x2="371.6" y2="218.2" stroke="#000" stroke-width="1.3"/>
<text transform="translate(362.4 221.55) scale(1 1.2)" font-size="7.8" font-weight="normal" text-anchor="end" stroke="#000" stroke-width="0.25">60</text>
<line x1="365" y1="236.3" x2="368.6" y2="236.3" stroke="#000" stroke-width="1.2"/>
<text transform="translate(362.4 239.25) scale(1 1.2)" font-size="7.8" font-weight="normal" text-anchor="end" stroke="#000" stroke-width="0.25">30</text>
<text transform="translate(362.4 256.75) scale(1 1.2)" font-size="7.8" font-weight="normal" text-anchor="end" stroke="#000" stroke-width="0.25">0</text>
<line x1="365" y1="253.1" x2="518" y2="253.1" stroke="#000" stroke-width="1.4"/>
<text x="331" y="202.6" font-size="8.4" font-weight="bold" text-anchor="middle" stroke="#000" stroke-width="0.18" transform="rotate(-90 331 202.6)">Migrated cells</text>
<text x="339.6" y="204" font-size="8.4" font-weight="bold" text-anchor="middle" stroke="#000" stroke-width="0.18" transform="rotate(-90 339.6 204)">(to specific Ag)</text>
<rect x="409.5" y="154.1" width="15.8" height="7.7" fill="#000"/>
<rect x="410" y="166.5" width="14.8" height="6.7" fill="#fff" stroke="#000" stroke-width="1"/>
<text transform="translate(428.5 160.9) scale(1 0.97)" font-size="8.3" font-weight="bold" text-anchor="start" stroke="#000" stroke-width="0.3">shC</text>
<text transform="translate(428.5 172.6) scale(1 0.97)" font-size="8.3" font-weight="bold" text-anchor="start" stroke="#000" stroke-width="0.3">shR</text>
<rect x="376.8" y="250.1" width="13.9" height="2.9" fill="#000"/>
<line x1="383.75" y1="250.1" x2="383.75" y2="248.9" stroke="#000" stroke-width="1.2"/>
<line x1="380.45" y1="248.9" x2="387.05" y2="248.9" stroke="#000" stroke-width="1.2"/>
<rect x="396.85" y="251.05" width="12.7" height="1.7" fill="#fff" stroke="#000" stroke-width="1.1"/>
<rect x="427.2" y="231.8" width="13.9" height="21.2" fill="#000"/>
<line x1="434.15" y1="231.8" x2="434.15" y2="227.7" stroke="#000" stroke-width="1.25"/>
<line x1="431.05" y1="227.7" x2="437.25" y2="227.7" stroke="#000" stroke-width="1.25"/>
<rect x="446.8" y="246.8" width="12.6" height="5.8" fill="#fff" stroke="#000" stroke-width="1.2"/>
<line x1="453.1" y1="246.2" x2="453.1" y2="242.2" stroke="#000" stroke-width="1.25"/>
<line x1="449.75" y1="242.2" x2="456.45" y2="242.2" stroke="#000" stroke-width="1.25"/>
<line x1="451" y1="235.1" x2="456" y2="235.1" stroke="#000" stroke-width="1.45"/>
<line x1="453.5" y1="232.6" x2="453.5" y2="237.6" stroke="#000" stroke-width="1.45"/>
<rect x="477.3" y="218.9" width="13.9" height="34.1" fill="#000"/>
<rect x="477.3" y="184.8" width="13.9" height="25.6" fill="#000"/>
<line x1="484.25" y1="184.8" x2="484.25" y2="168.5" stroke="#000" stroke-width="1.25"/>
<line x1="480.85" y1="168.5" x2="487.65" y2="168.5" stroke="#000" stroke-width="1.25"/>
<rect x="496.5" y="218.9" width="13.8" height="34.1" fill="#fff"/>
<path d="M497.1 253 L497.1 218.9 M509.7 218.9 L509.7 253" fill="none" stroke="#000" stroke-width="1.2"/>
<rect x="496.5" y="205.6" width="13.8" height="4.8" fill="#fff"/>
<path d="M497.1 210.4 L497.1 206.2 L509.7 206.2 L509.7 210.4" fill="none" stroke="#000" stroke-width="1.2"/>
<line x1="503.4" y1="205.6" x2="503.4" y2="192.2" stroke="#000" stroke-width="1.25"/>
<line x1="500.05" y1="192.2" x2="506.75" y2="192.2" stroke="#000" stroke-width="1.25"/>
<text transform="translate(393 263.61) scale(1 1.15)" font-size="7.8" font-weight="bold" text-anchor="middle" stroke="#000" stroke-width="0.18">0</text>
<text transform="translate(443.9 263.11) scale(1 1.15)" font-size="7.8" font-weight="bold" text-anchor="middle" stroke="#000" stroke-width="0.18">1.0</text>
<text transform="translate(493.4 261.81) scale(1 1.15)" font-size="7.8" font-weight="bold" text-anchor="middle" stroke="#000" stroke-width="0.18">10.0</text>
<text x="481.8" y="163" font-size="8.2" font-weight="normal" text-anchor="start" stroke="#000" stroke-width="0.25"><tspan font-style="italic">P</tspan> = .016</text>
<text x="454.7" y="275.8" font-size="8.3" font-weight="bold" text-anchor="middle" stroke="#000" stroke-width="0.18">DNP-HSA <tspan dx="1.6">(ng/mL)</tspan></text>
<text x="321.4" y="295.6" font-size="13" font-weight="bold" text-anchor="start" stroke="#000" stroke-width="0.18">F</text>
<line x1="367.9" y1="296.5" x2="367.9" y2="349.6" stroke="#000" stroke-width="1.3"/>
<line x1="367.9" y1="356.6" x2="367.9" y2="396.8" stroke="#000" stroke-width="1.3"/>
<line x1="364.6" y1="296.9" x2="367.9" y2="296.9" stroke="#000" stroke-width="1.2"/>
<text transform="translate(362.2 299.85) scale(1 1.2)" font-size="7.8" font-weight="normal" text-anchor="end" stroke="#000" stroke-width="0.25">4000</text>
<line x1="364.6" y1="323.4" x2="367.9" y2="323.4" stroke="#000" stroke-width="1.2"/>
<text transform="translate(362.2 326.35) scale(1 1.2)" font-size="7.8" font-weight="normal" text-anchor="end" stroke="#000" stroke-width="0.25">3000</text>
<line x1="364.4" y1="349.6" x2="371.2" y2="349.6" stroke="#000" stroke-width="1.3"/>
<text transform="translate(362.2 352.55) scale(1 1.2)" font-size="7.8" font-weight="normal" text-anchor="end" stroke="#000" stroke-width="0.25">2000</text>
<line x1="364.4" y1="356.8" x2="371.2" y2="356.8" stroke="#000" stroke-width="1.3"/>
<text transform="translate(362.2 359.95) scale(1 1.2)" font-size="7.8" font-weight="normal" text-anchor="end" stroke="#000" stroke-width="0.25">75</text>
<line x1="364.6" y1="370.2" x2="367.9" y2="370.2" stroke="#000" stroke-width="1.2"/>
<text transform="translate(362.2 373.15) scale(1 1.2)" font-size="7.8" font-weight="normal" text-anchor="end" stroke="#000" stroke-width="0.25">50</text>
<line x1="364.6" y1="383.6" x2="367.9" y2="383.6" stroke="#000" stroke-width="1.2"/>
<text transform="translate(362.2 386.55) scale(1 1.2)" font-size="7.8" font-weight="normal" text-anchor="end" stroke="#000" stroke-width="0.25">25</text>
<text transform="translate(362.2 399.95) scale(1 1.2)" font-size="7.8" font-weight="normal" text-anchor="end" stroke="#000" stroke-width="0.25">0</text>
<line x1="364.6" y1="396.8" x2="518" y2="396.8" stroke="#000" stroke-width="1.5"/>
<text x="340" y="344" font-size="8.4" font-weight="bold" text-anchor="middle" stroke="#000" stroke-width="0.18" transform="rotate(-90 340 344)">IL-6 (pg/mL)</text>
<rect x="412.9" y="301.3" width="16" height="7.8" fill="#000"/>
<rect x="413.4" y="313.6" width="15" height="6.8" fill="#fff" stroke="#000" stroke-width="1"/>
<text transform="translate(432 308.3) scale(1 0.97)" font-size="8.3" font-weight="bold" text-anchor="start" stroke="#000" stroke-width="0.3">shC</text>
<text transform="translate(432 320) scale(1 0.97)" font-size="8.3" font-weight="bold" text-anchor="start" stroke="#000" stroke-width="0.3">shR</text>
<rect x="376.8" y="394.8" width="13.9" height="2" fill="#000"/>
<rect x="396.3" y="395.6" width="13.6" height="1.2" fill="#000"/>
<rect x="427.5" y="363.4" width="13.4" height="33.2" fill="#000"/>
<line x1="434.2" y1="363.4" x2="434.2" y2="360.4" stroke="#000" stroke-width="1.3"/>
<line x1="431" y1="360.4" x2="437.4" y2="360.4" stroke="#000" stroke-width="1.3"/>
<rect x="446.85" y="390.25" width="12.3" height="5.9" fill="#fff" stroke="#000" stroke-width="1.3"/>
<line x1="448.1" y1="383.8" x2="452.9" y2="383.8" stroke="#000" stroke-width="1.3"/>
<line x1="450.5" y1="381.4" x2="450.5" y2="386.2" stroke="#000" stroke-width="1.3"/>
<line x1="454.1" y1="383.8" x2="458.9" y2="383.8" stroke="#000" stroke-width="1.3"/>
<line x1="456.5" y1="381.4" x2="456.5" y2="386.2" stroke="#000" stroke-width="1.3"/>
<rect x="477.2" y="357.1" width="13.6" height="39.5" fill="#000"/>
<rect x="477.2" y="318.6" width="13.6" height="30.3" fill="#000"/>
<line x1="484" y1="318.6" x2="484" y2="309.4" stroke="#000" stroke-width="1.25"/>
<line x1="480.7" y1="309.4" x2="487.3" y2="309.4" stroke="#000" stroke-width="1.25"/>
<rect x="496.2" y="357.1" width="13.4" height="39.5" fill="#fff"/>
<path d="M496.8 396.6 L496.8 357.1 M509 357.1 L509 396.6" fill="none" stroke="#000" stroke-width="1.2"/>
<rect x="496.2" y="328.4" width="13.4" height="20.5" fill="#fff"/>
<path d="M496.8 348.9 L496.8 329 L509 329 L509 348.9" fill="none" stroke="#000" stroke-width="1.2"/>
<line x1="502.9" y1="328.4" x2="502.9" y2="303.4" stroke="#000" stroke-width="1.25"/>
<line x1="499.2" y1="303.4" x2="506.6" y2="303.4" stroke="#000" stroke-width="1.25"/>
<text transform="translate(394.2 408.71) scale(1 1.15)" font-size="7.8" font-weight="bold" text-anchor="middle" stroke="#000" stroke-width="0.18">0</text>
<text transform="translate(444.6 408.71) scale(1 1.15)" font-size="7.8" font-weight="bold" text-anchor="middle" stroke="#000" stroke-width="0.18">1.0</text>
<text transform="translate(494.5 407.41) scale(1 1.15)" font-size="7.8" font-weight="bold" text-anchor="middle" stroke="#000" stroke-width="0.18">10.0</text>
<text x="455" y="421" font-size="8.3" font-weight="bold" text-anchor="middle" stroke="#000" stroke-width="0.18">DNP-HSA (ng/mL)</text>
</g>
</svg>
</body></html>
